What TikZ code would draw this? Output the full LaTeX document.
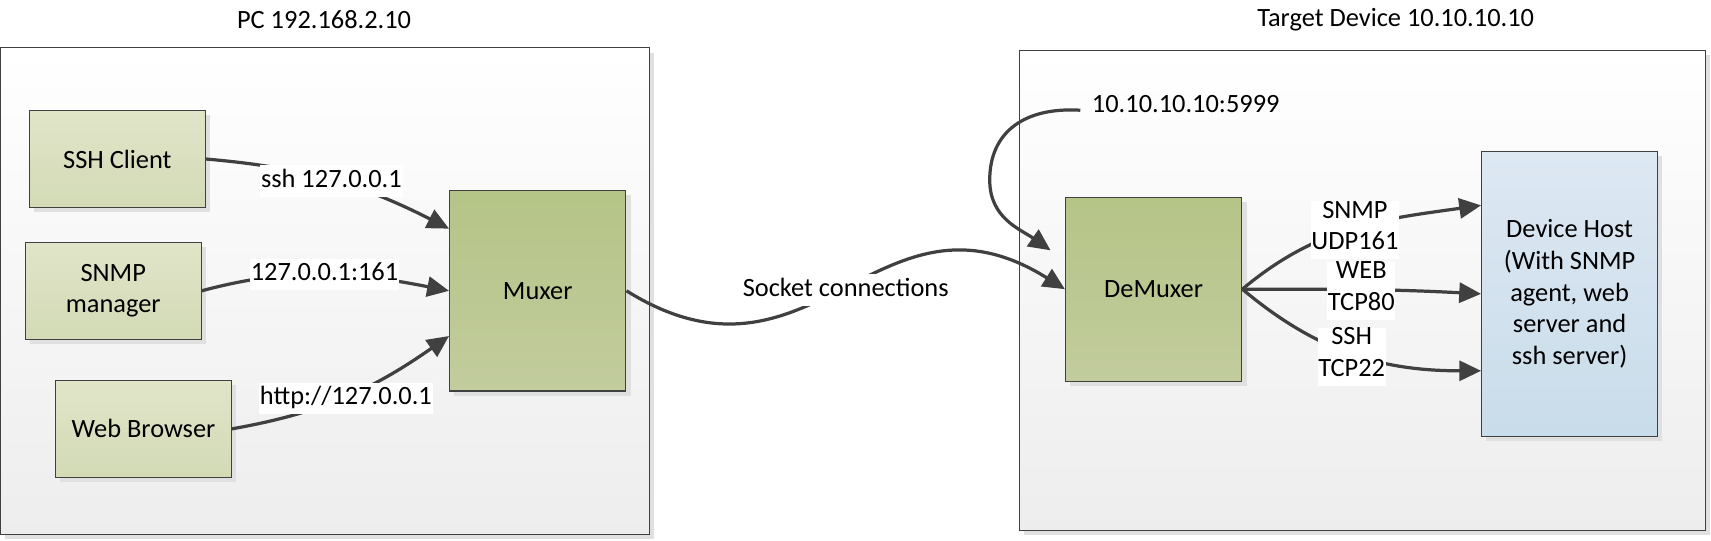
\documentclass[tikz,border=0pt]{standalone}
\usepackage{fontspec}
\setmainfont{Carlito}
\usetikzlibrary{arrows.meta,shadows}

\definecolor{appTop}{HTML}{E0E5C9}
\definecolor{appBot}{HTML}{D3DAB5}
\definecolor{muxTop}{HTML}{B5C487}
\definecolor{muxBot}{HTML}{C2CC9D}
\definecolor{hostTop}{HTML}{DDE8F3}
\definecolor{hostBot}{HTML}{C9DCEA}
\definecolor{edge}{HTML}{404040}

\tikzset{
	shade box/.style={draw=edge, line width=0.7pt,
		drop shadow={shadow xshift=0.11cm, shadow yshift=-0.11cm, fill=black!12, opacity=1}},
	zone/.style={shade box, top color=white, bottom color=black!7},
	appbox/.style={shade box, top color=appTop, bottom color=appBot, align=center,
		minimum width=4.025cm, minimum height=2.225cm},
	muxbox/.style={shade box, top color=muxTop, bottom color=muxBot, minimum width=4.04cm},
	hostbox/.style={shade box, top color=hostTop, bottom color=hostBot, align=center,
		minimum width=4.03cm, minimum height=6.515cm},
	conn/.style={draw=edge, line width=2.1pt, -{Triangle[length=0.5cm,width=0.46cm]}},
	lbl/.style={fill=white, inner xsep=0.5pt, inner ysep=0pt, align=center,
		execute at begin node=\strut, execute at end node=\strut}
}

\begin{document}
\begin{tikzpicture}[x=0.025cm, y=0.025cm, font=\fontsize{17.2}{20.6}\selectfont]
\useasboundingbox (0,0) rectangle (1568,-495);

\node[zone, minimum width=14.86cm, minimum height=11.14cm] (pc) at (297.9,-266.6) {};
\node[zone, minimum width=15.71cm, minimum height=10.99cm] (target) at (1248.4,-265.9) {};
\node (pctitle) at (297,-17.9) {PC 192.168.2.10};
\node (tgttitle) at (1279,-17.9) {Target Device 10.10.10.10};

\foreach \n/\x/\y/\t in {ssh/107.6/145.7/SSH Client, snmp/103.8/266.5/{SNMP\\manager}, web/131.5/393/Web Browser}{
	\node[appbox] (\n) at (\x,-\y) {\t};
}
\node[muxbox, minimum height=4.59cm] (mux) at (492.8,-266.5) {Muxer};
\node[muxbox, minimum height=4.21cm] (demux) at (1057.2,-265) {DeMuxer};
\node[hostbox] (host) at (1438.4,-269.3) {Device Host\\(With SNMP\\agent, web\\server and\\ssh server)};

\coordinate (port) at (990,-101);
\node[anchor=west, inner sep=1pt] (portlbl) at (999,-95.1) {10.10.10.10:5999};

\draw[conn] (ssh.east) to[out=-5,in=153] (mux.145);
\draw[conn] (snmp.east) to[out=15,in=169] (mux.west);
\draw[conn] (web.east) to[out=10,in=-145] (mux.207);
\draw[conn] (mux.east) .. controls (745,-373) and (805,-158) .. node[lbl] (socklbl) {Socket connections} (demux.west);
\draw[conn, shorten >=0.4cm] (port) .. controls (940,-98) and (907,-120) .. (907,-165) .. controls (907,-200) and (935,-210) .. (demux.162);
\draw[conn] (demux.east) to[out=40,in=-172] (host.135);
\draw[conn] (demux.east) to[out=0,in=177] (host.west);
\draw[conn] (demux.east) to[out=-40,in=180] (host.221);

\node[lbl] (sshlbl) at (303.7,-165.7) {ssh 127.0.0.1};
\node[lbl] (snmplbl) at (297.4,-251.5) {127.0.0.1:161};
\node[lbl] (weblbl) at (317,-365.3) {http://127.0.0.1};
\node[lbl] (udplbl) at (1241.7,-210.8) {SNMP\\UDP161};
\node[lbl] (tcp80lbl) at (1247.5,-266.5) {WEB\\TCP80};
\node[lbl] (tcp22lbl) at (1238.7,-326.8) {SSH\\TCP22};
\end{tikzpicture}
\end{document}
